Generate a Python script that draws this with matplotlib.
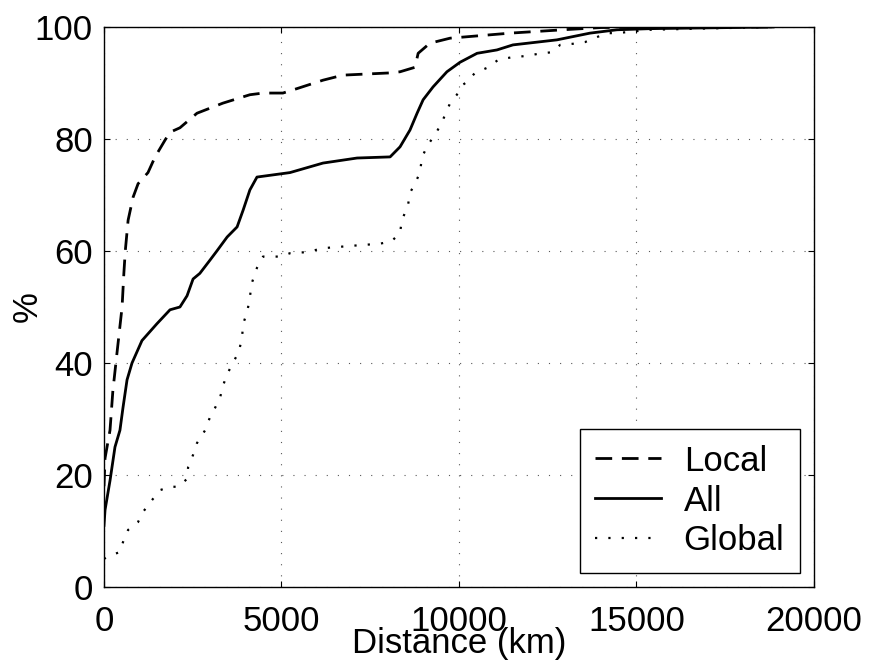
import numpy as np
import matplotlib
matplotlib.use('Agg')
import matplotlib.pyplot as plt

plt.rcParams['font.family'] = ['Liberation Sans', 'DejaVu Sans']

# CDF values (distance in km, percent)
local_km = [0, 30, 170, 250, 370, 510, 560, 600, 680, 820, 960, 1240, 1440, 1720, 1860,
            2140, 2620, 3350, 4110, 4480, 5040, 5440, 6170, 6730, 8060, 8340, 8760, 8850,
            9180, 9750, 11440, 12930, 14000, 17000, 18900]
local_pct = [18, 23, 28, 35, 42, 50, 56, 60, 65.5, 69.6, 72, 74, 76.8, 79.8, 81.2,
             82, 84.6, 86.4, 87.9, 88.2, 88.2, 89, 90.5, 91.4, 91.8, 92, 92.8, 95.3,
             97.1, 98, 98.9, 99.5, 99.9, 100, 100]

all_km = [0, 30, 170, 310, 450, 535, 650, 790, 1070, 1490, 1860, 2140, 2340, 2510, 2700,
          2990, 3180, 3470, 3750, 3920, 4110, 4310, 5240, 6170, 7130, 8060, 8340, 8620,
          8820, 8990, 9270, 9660, 10030, 10510, 11070, 11520, 12760, 13690, 14450, 15380, 18850]
all_pct = [11, 13.75, 19, 25, 28, 32, 37, 40, 44, 47, 49.5, 50, 52, 55, 56,
           58.4, 60, 62.5, 64.3, 67.3, 70.9, 73.2, 74, 75.7, 76.6, 76.8, 78.6, 81.6,
           84.6, 87, 89.3, 92, 93.7, 95.3, 95.9, 96.8, 97.7, 98.9, 99.5, 99.7, 100]

global_km = [0, 85, 450, 535, 680, 960, 1100, 1350, 1580, 1860, 2090, 2340, 2370, 2510, 2620,
             2850, 2990, 3130, 3270, 3350, 3470, 3630, 3800, 3890, 3920, 4030, 4110, 4150, 4310,
             4480, 4960, 5240, 5720, 6170, 7130, 7780, 8110, 8340, 8390, 8560, 8620, 8760,
             8900, 8960, 9130, 9350, 9520, 9750, 9940, 10090, 10230, 10450, 10790, 11100,
             11490, 11860, 12230, 12620, 12850, 13210, 13550, 13890, 14170, 14450, 15380, 18850]
global_pct = [5, 5.4, 6.25, 8, 10.2, 11.6, 13.4, 15.5, 17.3, 17.9, 17.9, 19.3, 21.4, 23.6, 25.7,
              28, 30.4, 32, 33.8, 35.9, 38, 40, 42, 44.6, 47, 49, 51.6, 54, 57,
              59, 59, 59.6, 59.8, 60.5, 61, 61.3, 61.8, 63.2, 65.5, 68, 70.4, 72,
              74, 76.8, 79, 81, 83, 86.4, 87.9, 89.6, 90.2, 91.8, 92.7, 94.1,
              94.6, 94.8, 95.2, 95.5, 96.8, 97, 97.3, 98.2, 98.9, 98.9, 99.5, 100]

fig = plt.figure(figsize=(8.73, 6.66), dpi=100)
ax = fig.add_axes([0.1191, 0.1186, 0.8133, 0.8409])

ax.plot(local_km, local_pct, color='black', lw=2.0, linestyle=(0, (6, 3.5)), label='Local')
ax.plot(all_km, all_pct, color='black', lw=2.0, label='All')
ax.plot(global_km, global_pct, color='black', lw=1.6, linestyle=(0, (1, 5)), label='Global')

ax.set_xlim(0, 20000)
ax.set_ylim(0, 100)
ax.set_xticks([0, 5000, 10000, 15000, 20000])
ax.set_yticks([0, 20, 40, 60, 80, 100])
ax.grid(True, color='0.35', lw=0.8, linestyle=(0, (1, 9)))
ax.tick_params(direction='in', top=True, right=True, length=4, width=0.8, labelsize=25)
ax.tick_params(axis='x', pad=13)
ax.tick_params(axis='y', pad=8)
for s in ax.spines.values():
    s.set_linewidth(1.0)

ax.set_xlabel('Distance (km)', fontsize=25)
ax.set_ylabel('%', fontsize=25)
ax.xaxis.set_label_coords(0.5, -0.072)
ax.yaxis.set_label_coords(-0.085, 0.5)

leg = ax.legend(loc='lower right', fontsize=25, frameon=True, fancybox=False,
                edgecolor='black', framealpha=1, handlelength=1.9, labelspacing=0.2,
                borderaxespad=0.4, handletextpad=0.65, borderpad=0.45)
leg.get_frame().set_linewidth(1.0)

fig.savefig('out.png', dpi=100)
